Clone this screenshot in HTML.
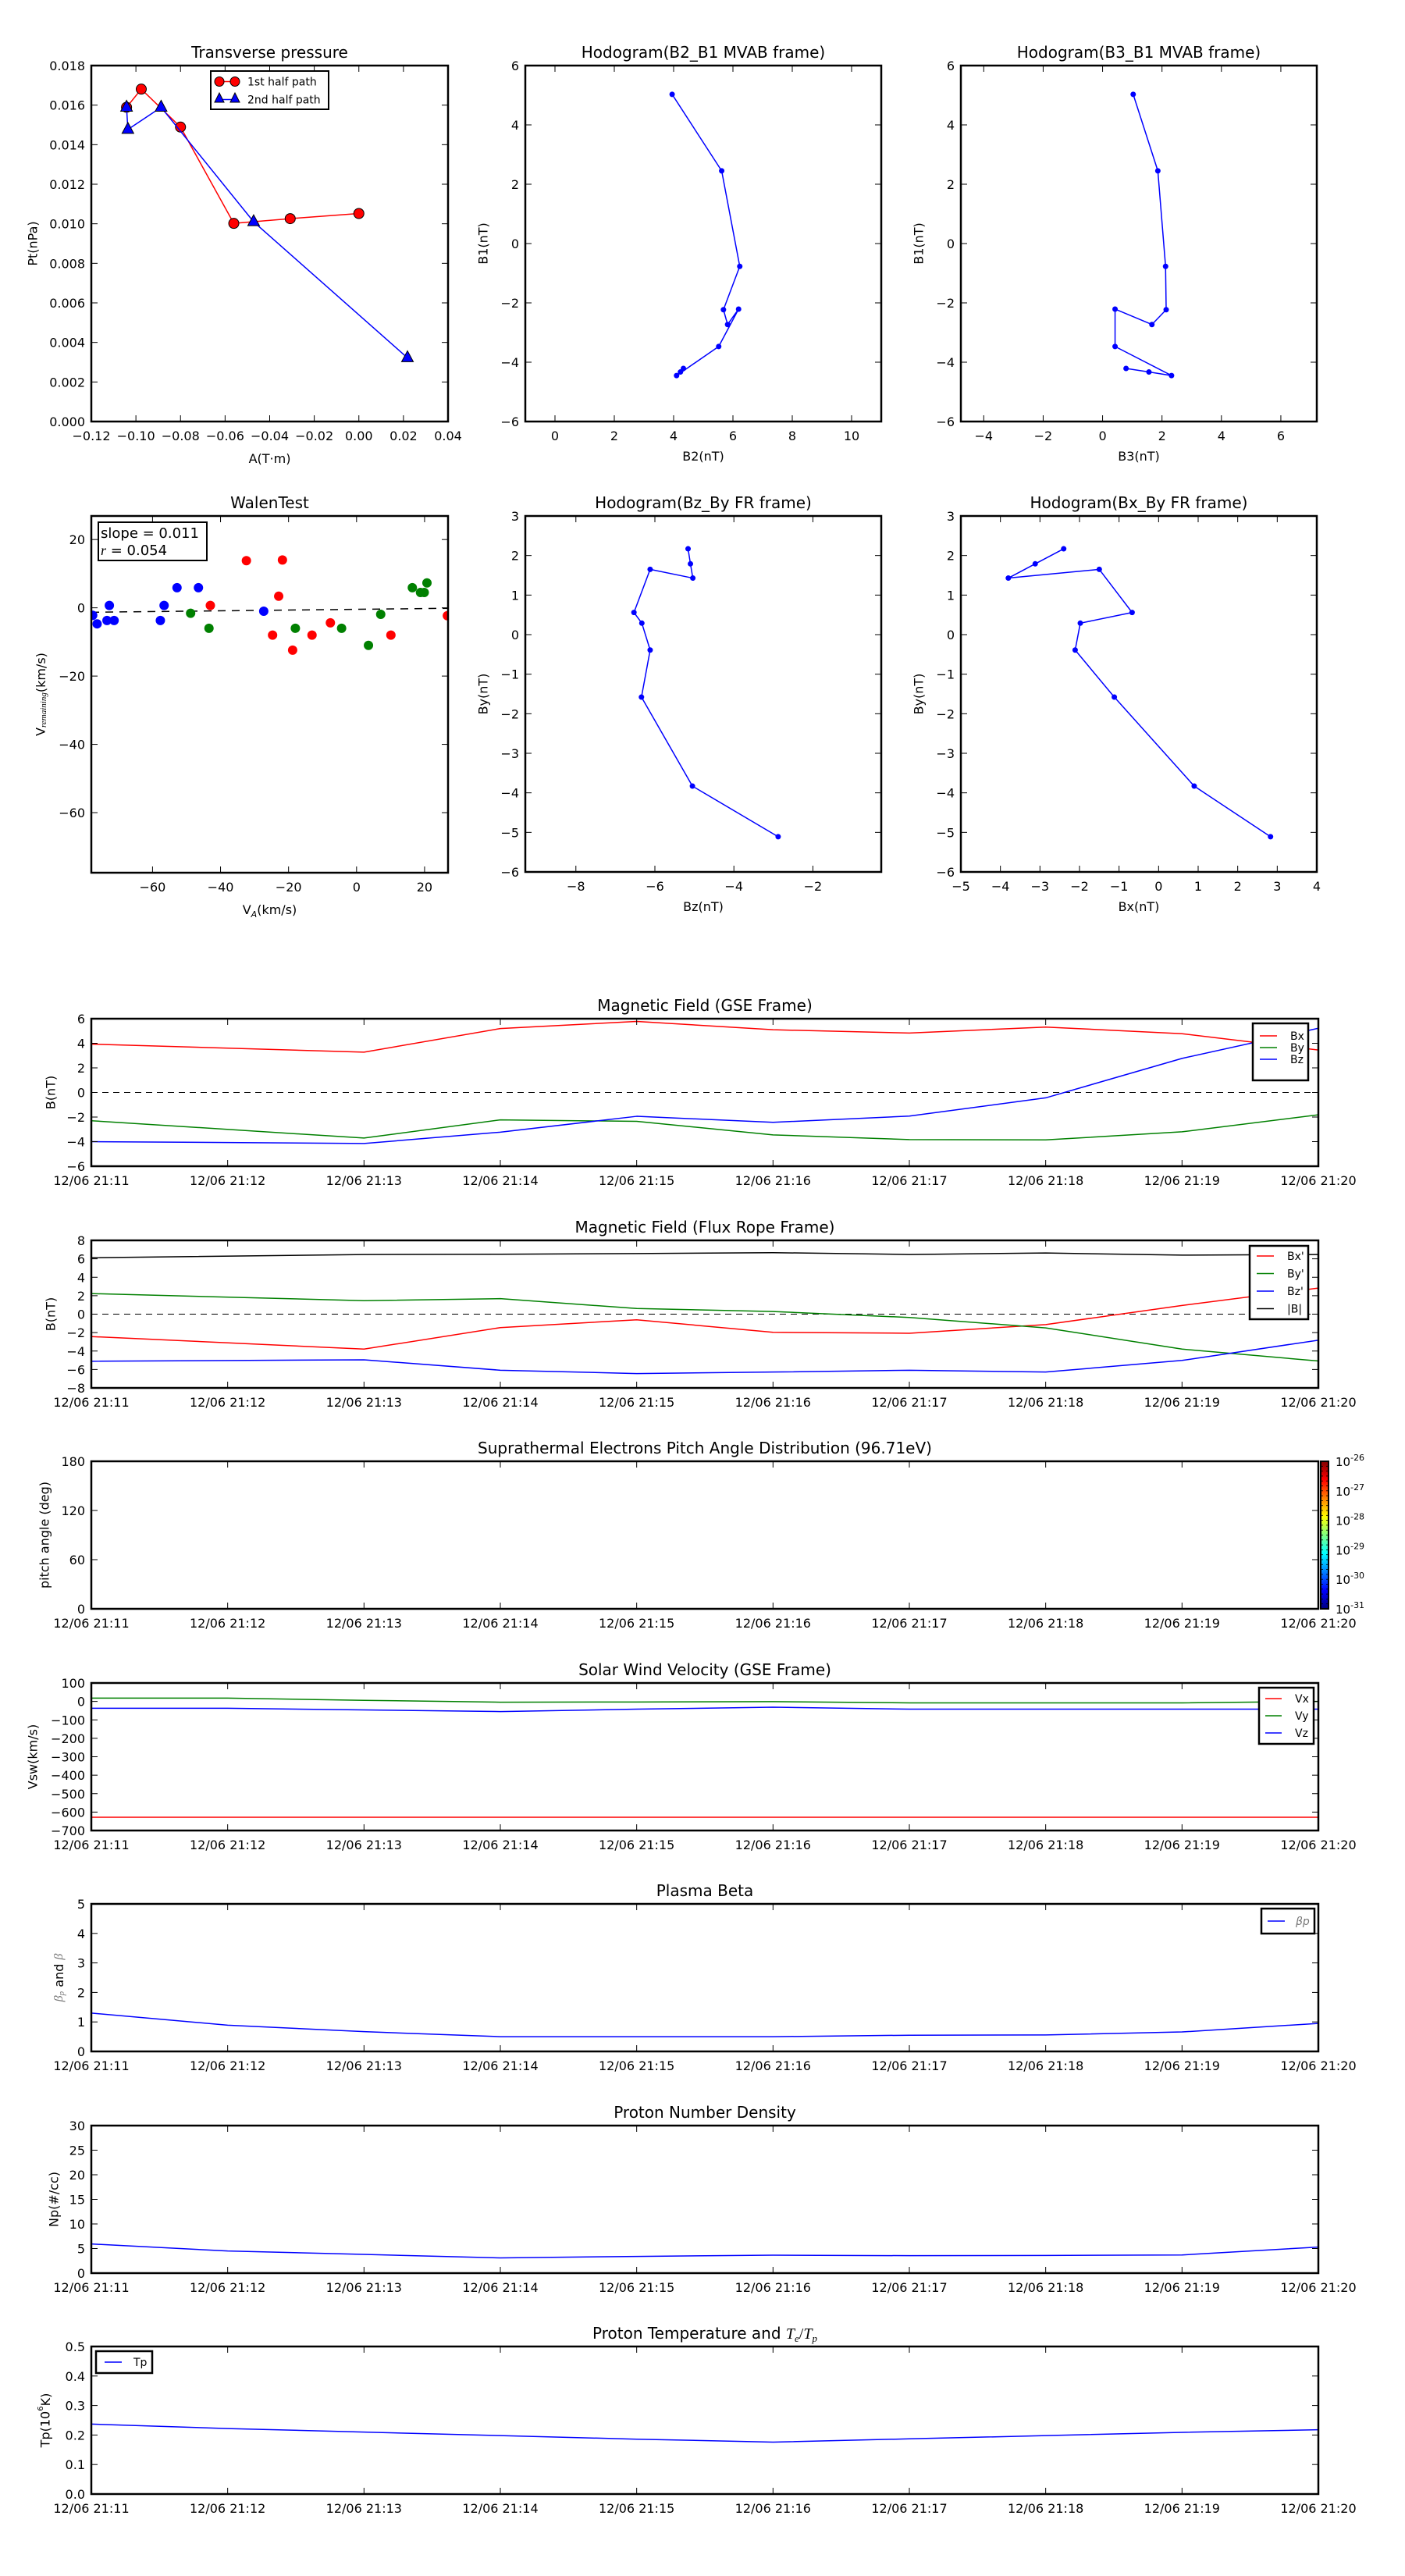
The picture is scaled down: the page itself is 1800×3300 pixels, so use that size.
<!DOCTYPE html>
<html><head><meta charset="utf-8"><title>Flux rope analysis</title>
<style>
html,body{margin:0;padding:0;background:#fff;}
svg{display:block;font-family:"DejaVu Sans","Liberation Sans",sans-serif;}
</style></head>
<body>
<svg id="fig" width="1800" height="3300" viewBox="0 0 1800 3300" xmlns="http://www.w3.org/2000/svg">
<defs>
<linearGradient id="jet" x1="0" y1="1" x2="0" y2="0">
<stop offset="0" stop-color="#000080"/><stop offset="0.125" stop-color="#0000ff"/><stop offset="0.375" stop-color="#00ffff"/><stop offset="0.625" stop-color="#ffff00"/><stop offset="0.875" stop-color="#ff0000"/><stop offset="1" stop-color="#800000"/>
</linearGradient>
</defs>
<rect x="0" y="0" width="1800" height="3300" fill="#fff"/>
</svg>
<script>
// ---------- Transverse pressure ----------
const tpA1 = [-0.1042, -0.0976, -0.0800, -0.0561, -0.0308, 0.0000];
const tpP1 = [0.01589, 0.01681, 0.01489, 0.01002, 0.01026, 0.01052];
const tpA2 = [-0.1042, -0.1036, -0.0887, -0.0472, 0.0218];
const tpP2 = [0.01589, 0.01477, 0.01589, 0.01010, 0.00322];
// ---------- Hodograms (MVAB) ----------
const hB1 = [5.03, 2.45, -0.77, -2.23, -2.73, -2.21, -3.47, -4.45, -4.33, -4.21];
const hB2 = [3.95, 5.62, 6.23, 5.68, 5.82, 6.19, 5.52, 4.10, 4.23, 4.33];
const hB3 = [1.03, 1.86, 2.12, 2.14, 1.66, 0.42, 0.42, 2.32, 1.56, 0.79];
// ---------- Hodograms (FR frame) ----------
const frBy = [2.17, 1.79, 1.43, 1.65, 0.56, 0.29, -0.39, -1.58, -3.83, -5.11];
const frBz = [-5.16, -5.10, -5.04, -6.12, -6.53, -6.33, -6.12, -6.34, -5.05, -2.88];
const frBx = [-2.40, -3.12, -3.80, -1.50, -0.67, -1.98, -2.11, -1.12, 0.90, 2.83];
// ---------- Walen test ----------
const wBlueX = [-77.6, -76.3, -73.4, -72.7, -71.3, -57.7, -56.6, -52.8, -46.5, -27.3];
const wBlueY = [-2.2, -4.7, -3.7, 0.7, -3.7, -3.7, 0.7, 5.9, 5.9, -1.0];
const wGreenX = [-48.8, -43.4, -18.0, -4.4, 3.5, 7.1, 16.4, 18.8, 19.9, 20.7];
const wGreenY = [-1.6, -6.0, -6.0, -6.0, -11.0, -1.9, 5.9, 4.5, 4.5, 7.3];
const wRedX = [-43.0, -32.4, -21.8, -22.9, -24.7, -18.8, -13.1, -7.7, 10.1, 26.7];
const wRedY = [0.7, 13.8, 14.0, 3.4, -8.0, -12.4, -8.0, -4.4, -8.0, -2.3];
const wSlope = 0.011;
const wIntercept = -0.44;
// ---------- Time series ----------
const minuteLabels = ['12/06 21:11','12/06 21:12','12/06 21:13','12/06 21:14','12/06 21:15','12/06 21:16','12/06 21:17','12/06 21:18','12/06 21:19','12/06 21:20'];
const tB = [0, 2, 3, 4, 5, 6, 7, 8, 9];
const gseBx = [3.93, 3.28, 5.20, 5.78, 5.10, 4.83, 5.32, 4.78, 3.45];
const gseBy = [-2.30, -3.71, -2.23, -2.35, -3.45, -3.83, -3.86, -3.20, -1.82];
const gseBz = [-4.00, -4.15, -3.23, -1.94, -2.43, -1.92, -0.44, 2.77, 5.22];
const frTBx = [-2.43, -3.79, -1.46, -0.61, -1.97, -2.07, -1.13, 0.94, 2.83];
const frTBy = [2.23, 1.46, 1.68, 0.61, 0.29, -0.36, -1.49, -3.79, -5.08];
const frTBz = [-5.11, -4.95, -6.08, -6.44, -6.28, -6.08, -6.28, -5.02, -2.82];
const frTB = [6.12, 6.47, 6.50, 6.57, 6.67, 6.47, 6.63, 6.40, 6.47];
const tAll = [0, 1, 2, 3, 4, 5, 6, 7, 8, 9];
const vx = [-628, -628, -628, -628, -628, -628, -628, -628, -628, -628];
const vy = [18, 18, 6, -4, -3, -1, -8, -8, -8, 0];
const vz = [-37, -37, -46, -55, -42, -31, -42, -42, -42, -42];
const betaP = [1.30, 0.89, 0.67, 0.50, 0.50, 0.50, 0.55, 0.56, 0.66, 0.95];
const np = [5.93, 4.5, 3.8, 3.1, 3.4, 3.65, 3.55, 3.6, 3.7, 5.3];
const tp = [0.237, 0.222, 0.210, 0.198, 0.186, 0.176, 0.187, 0.198, 0.209, 0.218];
const cbExponents = ['-26','-27','-28','-29','-30','-31'];

const NS = 'http://www.w3.org/2000/svg';
const svg = document.getElementById('fig');
let clipN = 0;
function mk(tag, attrs, parent) {
  const e = document.createElementNS(NS, tag);
  for (const k in attrs) e.setAttribute(k, attrs[k]);
  (parent || svg).appendChild(e);
  return e;
}
function txt(x, y, s, attrs, parent) {
  const e = mk('text', Object.assign({x: x, y: y, 'font-size': 16, 'text-anchor': 'middle', fill: '#000'}, attrs || {}), parent);
  e.textContent = s;
  return e;
}
function axes(name, L, T, W, H, xd, yd) {
  const g = mk('g', {});
  
  
  const id = 'clip' + (clipN++);
  const cp = mk('clipPath', {id: id}, g);
  mk('rect', {x: L, y: T, width: W, height: H}, cp);
  const plot = mk('g', {'clip-path': 'url(#' + id + ')'}, g);
  
  
  return {g: g, plot: plot, L: L, T: T, W: W, H: H,
    x: v => L + (v - xd[0]) / (xd[1] - xd[0]) * W,
    y: v => T + H - (v - yd[0]) / (yd[1] - yd[0]) * H};
}
function frame(a) {
  const r = mk('rect', {x: a.L, y: a.T, width: a.W, height: a.H, fill: 'none', stroke: '#000', 'stroke-width': 2.5}, a.g);
  
  
}
function fmtNum(v, d) { const s = Math.abs(v).toFixed(d); return (v < -1e-12 ? '\u2212' : '') + s; }
function ticksX(a, vals, labels, off) {
  vals.forEach((v, i) => {
    const px = a.x(v);
    const t1 = mk('line', {x1: px, x2: px, y1: a.T + a.H, y2: a.T + a.H - 8, stroke: '#000', 'stroke-width': 1}, a.g);
    
    
    const t2 = mk('line', {x1: px, x2: px, y1: a.T, y2: a.T + 8, stroke: '#000', 'stroke-width': 1}, a.g);
    
    
    const lb = txt(px, a.T + a.H + (off || 24), labels[i], {}, a.g);
    
    
  });
}
function ticksY(a, vals, labels) {
  vals.forEach((v, i) => {
    const py = a.y(v);
    const t1 = mk('line', {x1: a.L, x2: a.L + 8, y1: py, y2: py, stroke: '#000', 'stroke-width': 1}, a.g);
    
    
    const t2 = mk('line', {x1: a.L + a.W, x2: a.L + a.W - 8, y1: py, y2: py, stroke: '#000', 'stroke-width': 1}, a.g);
    
    
    const lb = txt(a.L - 8, py + 6, labels[i], {'text-anchor': 'end'}, a.g);
    
    
  });
}
function range(a, b, s) { const r = []; for (let v = a; v <= b + 1e-9; v += s) r.push(Math.round(v * 1e6) / 1e6); return r; }
function title(a, s) {
  const t = txt(a.L + a.W / 2, a.T - 10, s, {'font-size': 20}, a.g);
  
  
  return t;
}
function xlabel(a, s, y) {
  const t = txt(a.L + a.W / 2, y, s, {'font-size': 16}, a.g);
  
  
  return t;
}
function ylabel(a, s, x) {
  const cy = a.T + a.H / 2;
  const t = txt(x, cy, s, {'font-size': 16, transform: 'rotate(-90 ' + x + ' ' + cy + ')', 'dominant-baseline': 'central'}, a.g);
  
  
  return t;
}
function pathOf(a, xs, ys) { return xs.map((v, i) => (i ? 'L' : 'M') + a.x(v).toFixed(2) + ',' + a.y(ys[i]).toFixed(2)).join(' '); }
function line(a, xs, ys, color, w, name) {
  const p = mk('path', {d: pathOf(a, xs, ys), fill: 'none', stroke: color, 'stroke-width': w, 'stroke-linejoin': 'round'}, a.plot);
  
  
  return p;
}
function dots(a, xs, ys, color, r, name, stroke) {
  xs.forEach((v, i) => {
    const c = mk('circle', {cx: a.x(v), cy: a.y(ys[i]), r: r, fill: color, stroke: stroke || 'none', 'stroke-width': 1}, a.plot);
    
    
  });
}
function legend(x, y, w, h, entries, parent, textX, sampleX0, sampleX1, rowH, firstY) {
  const g = mk('g', {}, parent);
  
  
  mk('rect', {x: x, y: y, width: w, height: h, fill: '#fff', stroke: '#000', 'stroke-width': 2.5}, g);
  entries.forEach((e, i) => {
    const yy = y + firstY + i * rowH;
    const l = mk('line', {x1: x + sampleX0, x2: x + sampleX1, y1: yy, y2: yy, stroke: e.c, 'stroke-width': 1.5}, g);
    
    
    const t = txt(x + textX, yy + 5, e.s, {'text-anchor': 'start', 'font-size': 14, 'font-style': e.it ? 'italic' : 'normal', fill: e.tc || '#000'}, g);
    
    
  });
  return g;
}

// ================= Transverse pressure =================
(function () {
  const a = axes('transverse-pressure-chart', 117, 84, 457, 456, [-0.12, 0.04], [0, 0.018]);
  title(a, 'Transverse pressure');
  const xt = range(-0.12, 0.04, 0.02);
  ticksX(a, xt, xt.map(v => fmtNum(v, 2)));
  const yt = range(0, 0.018, 0.002);
  ticksY(a, yt, yt.map(v => fmtNum(v, 3)));
  xlabel(a, 'A(T\u00b7m)', 593);
  ylabel(a, 'Pt(nPa)', 42);
  line(a, tpA1, tpP1, '#ff0000', 1.5, 'first-half-path-line');
  dots(a, tpA1, tpP1, '#ff0000', 6.5, 'first-half-path-point', '#000');
  line(a, tpA2, tpP2, '#0000ff', 1.5, 'second-half-path-line');
  tpA2.forEach((v, i) => {
    const cx = a.x(v), cy = a.y(tpP2[i]);
    const t = mk('polygon', {points: cx + ',' + (cy - 9) + ' ' + (cx - 7.5) + ',' + (cy + 5) + ' ' + (cx + 7.5) + ',' + (cy + 5), fill: '#0000ff', stroke: '#000', 'stroke-width': 1}, a.plot);
    
    
  });
  frame(a);
  const lg = mk('g', {}, a.g);
  
  
  mk('rect', {x: 270, y: 91, width: 151, height: 49, fill: '#fff', stroke: '#000', 'stroke-width': 2}, lg);
  mk('line', {x1: 281, x2: 301, y1: 104.5, y2: 104.5, stroke: '#ff0000', 'stroke-width': 1.5}, lg);
  mk('circle', {cx: 281, cy: 104.5, r: 6, fill: '#ff0000', stroke: '#000'}, lg);
  mk('circle', {cx: 301, cy: 104.5, r: 6, fill: '#ff0000', stroke: '#000'}, lg);
  const l1 = txt(317, 109.5, '1st half path', {'text-anchor': 'start', 'font-size': 14}, lg);
  
  
  mk('line', {x1: 281, x2: 301, y1: 127.5, y2: 127.5, stroke: '#0000ff', 'stroke-width': 1.5}, lg);
  mk('polygon', {points: '281,119 275,131 287,131', fill: '#0000ff', stroke: '#000'}, lg);
  mk('polygon', {points: '301,119 295,131 307,131', fill: '#0000ff', stroke: '#000'}, lg);
  const l2 = txt(317, 132.5, '2nd half path', {'text-anchor': 'start', 'font-size': 14}, lg);
  
  
})();

// ================= Hodogram B2_B1 =================
(function () {
  const a = axes('hodogram-b2-b1-chart', 673, 84, 456, 456, [-1, 11], [-6, 6]);
  title(a, 'Hodogram(B2_B1 MVAB frame)');
  const xt = range(0, 10, 2);
  ticksX(a, xt, xt.map(v => fmtNum(v, 0)));
  const yt = range(-6, 6, 2);
  ticksY(a, yt, yt.map(v => fmtNum(v, 0)));
  xlabel(a, 'B2(nT)', 590);
  ylabel(a, 'B1(nT)', 619);
  line(a, hB2, hB1, '#0000ff', 1.5, 'hodogram-path');
  dots(a, hB2, hB1, '#0000ff', 3.5, 'hodogram-point');
  frame(a);
})();

// ================= Hodogram B3_B1 =================
(function () {
  const a = axes('hodogram-b3-b1-chart', 1231, 84, 456, 456, [-4.77, 7.21], [-6, 6]);
  title(a, 'Hodogram(B3_B1 MVAB frame)');
  const xt = range(-4, 6, 2);
  ticksX(a, xt, xt.map(v => fmtNum(v, 0)));
  const yt = range(-6, 6, 2);
  ticksY(a, yt, yt.map(v => fmtNum(v, 0)));
  xlabel(a, 'B3(nT)', 590);
  ylabel(a, 'B1(nT)', 1177);
  line(a, hB3, hB1, '#0000ff', 1.5, 'hodogram-path');
  dots(a, hB3, hB1, '#0000ff', 3.5, 'hodogram-point');
  frame(a);
})();

// ================= Walen test =================
(function () {
  const a = axes('walen-test-chart', 117, 661, 457, 457, [-78.0, 26.9], [-77.6, 26.9]);
  title(a, 'WalenTest');
  const xt = [-60, -40, -20, 0, 20];
  ticksX(a, xt, xt.map(v => fmtNum(v, 0)));
  const yt = [-60, -40, -20, 0, 20];
  ticksY(a, yt, yt.map(v => fmtNum(v, 0)));
  const xl = txt(a.L + a.W / 2, 1171, 'V', {'font-size': 16}, a.g);
  
  
  const xs = mk('tspan', {'font-size': 11, 'font-style': 'italic', dy: 4}, xl); xs.textContent = 'A';
  const xr = mk('tspan', {dy: -4}, xl); xr.textContent = '(km/s)';
  const cy = a.T + a.H / 2;
  const yl = txt(52, cy, 'V', {'font-size': 16, transform: 'rotate(-90 52 ' + cy + ')', 'dominant-baseline': 'central'}, a.g);
  
  
  const ys = mk('tspan', {'font-size': 11, 'font-style': 'italic', dy: 4, 'font-family': 'Liberation Serif, serif'}, yl); ys.textContent = 'remaining';
  const yr = mk('tspan', {dy: -4}, yl); yr.textContent = '(km/s)';
  const fx = [-78.0, 26.9];
  const fy = fx.map(v => wSlope * v + wIntercept);
  const fl = mk('path', {d: pathOf(a, fx, fy), stroke: '#000', 'stroke-width': 1.5, 'stroke-dasharray': '10,8', fill: 'none'}, a.plot);
  
  
  dots(a, wBlueX, wBlueY, '#0000ff', 6, 'walen-point-blue');
  dots(a, wGreenX, wGreenY, '#008000', 6, 'walen-point-green');
  dots(a, wRedX, wRedY, '#ff0000', 6, 'walen-point-red');
  frame(a);
  const box = mk('g', {}, a.g);
  
  
  mk('rect', {x: 126, y: 669, width: 139, height: 49, fill: '#fff', stroke: '#000', 'stroke-width': 2}, box);
  const s1 = txt(129, 689, 'slope = ' + wSlope.toFixed(3), {'text-anchor': 'start', 'font-size': 18}, box);
  
  
  const s2 = txt(129, 711, '', {'text-anchor': 'start', 'font-size': 18}, box);
  
  
  const rr = mk('tspan', {'font-style': 'italic', 'font-family': 'Liberation Serif, serif'}, s2); rr.textContent = 'r';
  const rv = mk('tspan', {}, s2); rv.textContent = ' = 0.054';
})();

// ================= Hodogram Bz_By =================
(function () {
  const a = axes('hodogram-bz-by-chart', 673, 661, 456, 456, [-9.28, -0.27], [-6, 3]);
  title(a, 'Hodogram(Bz_By FR frame)');
  const xt = range(-8, -2, 2);
  ticksX(a, xt, xt.map(v => fmtNum(v, 0)));
  const yt = range(-6, 3, 1);
  ticksY(a, yt, yt.map(v => fmtNum(v, 0)));
  xlabel(a, 'Bz(nT)', 1167);
  ylabel(a, 'By(nT)', 619);
  line(a, frBz, frBy, '#0000ff', 1.5, 'hodogram-path');
  dots(a, frBz, frBy, '#0000ff', 3.5, 'hodogram-point');
  frame(a);
})();

// ================= Hodogram Bx_By =================
(function () {
  const a = axes('hodogram-bx-by-chart', 1231, 661, 456, 456, [-5, 4], [-6, 3]);
  title(a, 'Hodogram(Bx_By FR frame)');
  const xt = range(-5, 4, 1);
  ticksX(a, xt, xt.map(v => fmtNum(v, 0)));
  const yt = range(-6, 3, 1);
  ticksY(a, yt, yt.map(v => fmtNum(v, 0)));
  xlabel(a, 'Bx(nT)', 1167);
  ylabel(a, 'By(nT)', 1177);
  line(a, frBx, frBy, '#0000ff', 1.5, 'hodogram-path');
  dots(a, frBx, frBy, '#0000ff', 3.5, 'hodogram-point');
  frame(a);
})();

// ================= Time series =================
const TL = 117, TW = 1572, TH = 189;
function timeAxes(name, T, yd, yt, yfmt, ttl) {
  const a = axes(name, TL, T, TW, TH, [0, 9], yd);
  ticksX(a, tAll, minuteLabels, 24);
  ticksY(a, yt, yt.map(yfmt));
  return a;
}
function zeroLine(a) {
  const z = mk('line', {x1: a.L, x2: a.L + a.W, y1: a.y(0), y2: a.y(0), stroke: '#000', 'stroke-width': 1, 'stroke-dasharray': '8,6'}, a.plot);
  
  
}

(function () {
  const a = timeAxes('gse-magnetic-field-chart', 1305, [-6, 6], range(-6, 6, 2), v => fmtNum(v, 0));
  title(a, 'Magnetic Field (GSE Frame)');
  ylabel(a, 'B(nT)', 65);
  zeroLine(a);
  line(a, tB, gseBx, '#ff0000', 1.5, 'bx-line');
  line(a, tB, gseBy, '#008000', 1.5, 'by-line');
  line(a, tB, gseBz, '#0000ff', 1.5, 'bz-line');
  frame(a);
  legend(1605, 1311, 71, 73, [{s: 'Bx', c: '#ff0000'}, {s: 'By', c: '#008000'}, {s: 'Bz', c: '#0000ff'}], a.g, 48, 9, 31, 15, 16);
})();

(function () {
  const a = timeAxes('flux-rope-magnetic-field-chart', 1589, [-8, 8], range(-8, 8, 2), v => fmtNum(v, 0));
  title(a, 'Magnetic Field (Flux Rope Frame)');
  ylabel(a, 'B(nT)', 65);
  zeroLine(a);
  line(a, tB, frTBx, '#ff0000', 1.5, 'bx-prime-line');
  line(a, tB, frTBy, '#008000', 1.5, 'by-prime-line');
  line(a, tB, frTBz, '#0000ff', 1.5, 'bz-prime-line');
  line(a, tB, frTB, '#000000', 1.5, 'b-magnitude-line');
  frame(a);
  legend(1601, 1596, 75, 94, [{s: "Bx'", c: '#ff0000'}, {s: "By'", c: '#008000'}, {s: "Bz'", c: '#0000ff'}, {s: '|B|', c: '#000'}], a.g, 48, 9, 31, 22.5, 13);
})();

(function () {
  const a = timeAxes('pitch-angle-distribution-chart', 1872, [0, 180], [0, 60, 120, 180], v => String(v));
  title(a, 'Suprathermal Electrons Pitch Angle Distribution (96.71eV)');
  ylabel(a, 'pitch angle (deg)', 57);
  frame(a);
  const cb = mk('g', {}, svg);
  
  
  mk('rect', {x: 1692, y: 1872, width: 10, height: 189, fill: 'url(#jet)', stroke: '#000', 'stroke-width': 2}, cb);
  for (let k = 1; k < 30; k++) {
    const yy = 1872 + 189 * k / 30;
    mk('line', {x1: 1692, x2: 1695, y1: yy, y2: yy, stroke: '#000', 'stroke-width': 0.8}, cb);
    mk('line', {x1: 1699, x2: 1702, y1: yy, y2: yy, stroke: '#000', 'stroke-width': 0.8}, cb);
  }
  cbExponents.forEach((e, i) => {
    const yy = 1872 + 189 * i / (cbExponents.length - 1);
    const t = txt(1711, yy + 6, '10', {'text-anchor': 'start', 'font-size': 15}, cb);
    
    
    const s = mk('tspan', {'font-size': 11, dy: -7}, t); s.textContent = e;
  });
})();

(function () {
  const a = timeAxes('solar-wind-velocity-chart', 2156, [-700, 100], range(-700, 100, 100), v => fmtNum(v, 0));
  title(a, 'Solar Wind Velocity (GSE Frame)');
  ylabel(a, 'Vsw(km/s)', 42);
  line(a, tAll, vx, '#ff0000', 1.5, 'vx-line');
  line(a, tAll, vy, '#008000', 1.5, 'vy-line');
  line(a, tAll, vz, '#0000ff', 1.5, 'vz-line');
  frame(a);
  legend(1613, 2162, 70, 72, [{s: 'Vx', c: '#ff0000'}, {s: 'Vy', c: '#008000'}, {s: 'Vz', c: '#0000ff'}], a.g, 46, 8, 29, 22, 14);
})();

(function () {
  const a = timeAxes('plasma-beta-chart', 2439, [0, 5], range(0, 5, 1), v => String(v));
  title(a, 'Plasma Beta');
  const cy = a.T + a.H / 2;
  const yl = txt(75, cy, '', {'font-size': 16, transform: 'rotate(-90 75 ' + cy + ')', 'dominant-baseline': 'central'}, a.g);
  
  
  const b1 = mk('tspan', {'font-style': 'italic', fill: '#777', 'font-family': 'Liberation Serif, serif'}, yl); b1.textContent = '\u03b2';
  const b2 = mk('tspan', {'font-style': 'italic', fill: '#777', 'font-size': 11, dy: 4, 'font-family': 'Liberation Serif, serif'}, yl); b2.textContent = 'p';
  const b3 = mk('tspan', {dy: -4}, yl); b3.textContent = ' and ';
  const b4 = mk('tspan', {'font-style': 'italic', fill: '#777', 'font-family': 'Liberation Serif, serif'}, yl); b4.textContent = '\u03b2';
  line(a, tAll, betaP, '#0000ff', 1.5, 'beta-p-line');
  frame(a);
  legend(1616, 2445, 68, 32, [{s: '\u03b2p', c: '#0000ff', it: true, tc: '#777'}], a.g, 44, 8, 30, 0, 16);
})();

(function () {
  const a = timeAxes('proton-density-chart', 2723, [0, 30], range(0, 30, 5), v => String(v));
  title(a, 'Proton Number Density');
  ylabel(a, 'Np(#/cc)', 69);
  line(a, tAll, np, '#0000ff', 1.5, 'np-line');
  frame(a);
})();

(function () {
  const a = timeAxes('proton-temperature-chart', 3006, [0, 0.5], range(0, 0.5, 0.1), v => v.toFixed(1));
  const t = title(a, 'Proton Temperature and ');
  const te = mk('tspan', {'font-style': 'italic', 'font-family': 'Liberation Serif, serif'}, t); te.textContent = 'T';
  const te2 = mk('tspan', {'font-style': 'italic', 'font-size': 13, dy: 4, 'font-family': 'Liberation Serif, serif'}, t); te2.textContent = 'e';
  const sl = mk('tspan', {dy: -4, 'font-family': 'Liberation Serif, serif'}, t); sl.textContent = '/';
  const tp1 = mk('tspan', {'font-style': 'italic', 'font-family': 'Liberation Serif, serif'}, t); tp1.textContent = 'T';
  const tp2 = mk('tspan', {'font-style': 'italic', 'font-size': 13, dy: 4, 'font-family': 'Liberation Serif, serif'}, t); tp2.textContent = 'p';
  const cy = a.T + a.H / 2;
  const yl = txt(58, cy, 'Tp(10', {'font-size': 16, transform: 'rotate(-90 58 ' + cy + ')', 'dominant-baseline': 'central'}, a.g);
  
  
  const sup = mk('tspan', {'font-size': 10, dy: -6}, yl); sup.textContent = '6';
  const rest = mk('tspan', {dy: 6}, yl); rest.textContent = 'K)';
  line(a, tAll, tp, '#0000ff', 1.5, 'tp-line');
  frame(a);
  legend(123, 3012, 72, 28, [{s: 'Tp', c: '#0000ff'}], a.g, 48, 11, 33, 0, 14);
})();
</script>
</body></html>
